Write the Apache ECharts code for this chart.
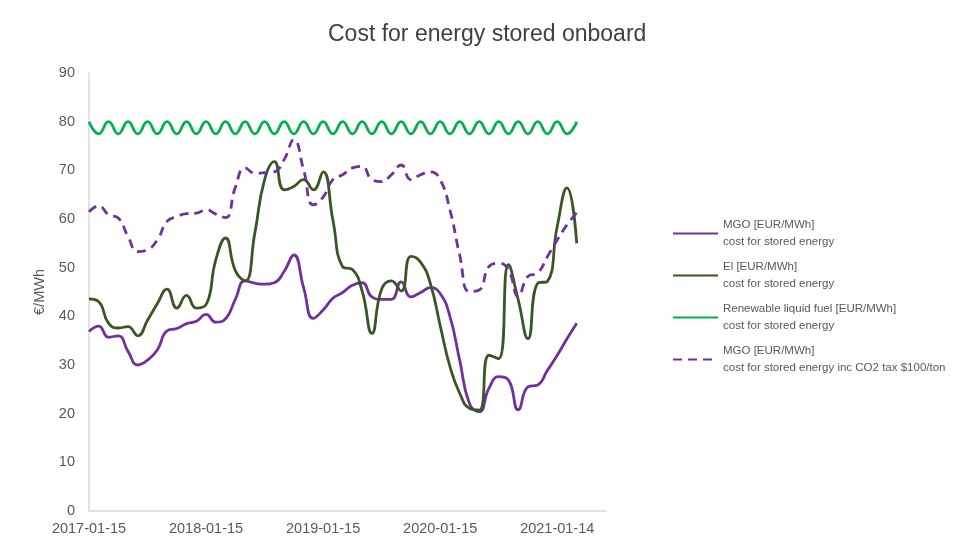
<!DOCTYPE html>
<html>
<head>
<meta charset="utf-8">
<title>Cost for energy stored onboard</title>
<script src="https://cdn.jsdelivr.net/npm/echarts/dist/echarts.min.js"></script>
</head>
<body style="margin:0;background:#fff">
<div id="container" style="width:959px;height:552px"></div>
<script>
// monthly categories, Jan 2017 .. Jun 2021 (axis runs a bit past the data)
var months = [];
for (var y = 2017; y <= 2021; y++) {
    for (var m = 1; m <= 12; m++) {
        if (y === 2021 && m > 6) break;
        var d = (y === 2021 && m === 1) ? '14' : '15';
        months.push(y + '-' + (m < 10 ? '0' + m : m) + '-' + d);
    }
}

// values, EUR/MWh
var mgo = [36.9, 38.0, 35.7, 36.0, 32.8, 30.0, 31.0, 33.1, 37.0, 37.5,
           38.5, 39.0, 40.4, 38.8, 39.5, 43.5, 47.3, 46.8, 46.6, 46.9,
           49.2, 52.6, 45.9, 39.6, 41.3, 43.7, 44.9, 46.4, 46.9, 44.0,
           43.5, 43.5, 47.1, 44.0, 44.9, 45.9, 44.7, 40.0, 31.0, 22.1,
           20.4, 25.2, 27.6, 26.9, 20.8, 25.5, 25.9, 28.9, 32.0, 35.4,
           38.6];
var el = [43.6, 43.0, 38.6, 37.6, 37.9, 36.0, 39.2, 42.6, 45.6, 41.7,
          44.3, 41.7, 42.4, 51.6, 56.1, 49.4, 47.3, 57.1, 68.1, 71.8,
          66.0, 66.7, 68.1, 66.0, 69.7, 59.8, 50.2, 49.6, 45.2, 36.5,
          45.6, 47.3, 45.2, 52.3, 51.1, 46.7, 38.1, 29.7, 24.2, 21.1,
          20.7, 32.0, 31.3, 50.6, 43.4, 35.4, 46.8, 47.2, 58.5, 66.4,
          55.0];
var renewable = [80, 77.5, 80, 77.5, 80, 77.5, 80, 77.5, 80, 77.5,
                 80, 77.5, 80, 77.5, 80, 77.5, 80, 77.5, 80, 77.5,
                 80, 77.5, 80, 77.5, 80, 77.5, 80, 77.5, 80, 77.5,
                 80, 77.5, 80, 77.5, 80, 77.5, 80, 77.5, 80, 77.5,
                 80, 77.5, 80, 77.5, 80, 77.5, 80, 77.5, 80, 77.5,
                 80];
var mgoCo2 = [61.5, 62.7, 60.9, 60.2, 56.4, 53.3, 53.7, 55.7, 59.5, 60.5,
              61.1, 61.2, 61.9, 61.0, 60.3, 66.5, 70.5, 69.4, 69.5, 69.7,
              72.2, 76.3, 70.1, 62.9, 64.5, 68.1, 69.1, 70.5, 70.8, 68.1,
              67.7, 69.1, 71.1, 68.1, 69.1, 69.7, 68.1, 61.9, 52.6, 45.1,
              45.4, 50.2, 50.9, 49.6, 44.1, 48.2, 48.9, 52.3, 55.7, 58.8,
              61.3];

var seriesNames = [
    'MGO [EUR/MWh]\ncost for stored energy',
    'El [EUR/MWh]\ncost for stored energy',
    'Renewable liquid fuel [EUR/MWh]\ncost for stored energy',
    'MGO [EUR/MWh]\ncost for stored energy inc CO2 tax $100/ton'
];

var font = 'Liberation Sans';
var myChart = echarts.init(document.getElementById('container'));

var mkLine = function (name, data, color, dash) {
    return {
        name: name,
        type: 'line',
        data: data,
        smooth: 0.5,
        symbol: 'none',
        showSymbol: false,
        lineStyle: {color: color, width: 2.8, type: dash || 'solid'},
        itemStyle: {color: color}
    };
};

var option = {
    backgroundColor: '#fff',
    animation: false,
    textStyle: {fontFamily: font},
    title: {
        text: 'Cost for energy stored onboard',
        left: 328,
        top: 23,
        padding: 0,
        textStyle: {fontFamily: font, fontSize: 23, fontWeight: 'normal', color: '#404040'}
    },
    legend: {
        orient: 'vertical',
        left: 672,
        top: 208,
        padding: 0,
        itemGap: -9,
        itemWidth: 45,
        itemHeight: 14,
        data: seriesNames,
        // only the line in the legend keys, no marker dot
        itemStyle: {opacity: 0},
        textStyle: {
            fontFamily: font, fontSize: 11.5, color: '#595959',
            lineHeight: 17, padding: [17, 0, 0, 0]
        }
    },
    grid: {left: 89, top: 73, right: 353, bottom: 41},
    xAxis: {
        type: 'category',
        data: months,
        boundaryGap: false,
        axisLine: {lineStyle: {color: '#d9d9d9', width: 1.5}},
        axisTick: {show: false},
        axisLabel: {interval: 11, color: '#595959', fontSize: 14.5, margin: 10, fontFamily: font},
        splitLine: {show: false}
    },
    yAxis: {
        type: 'value',
        min: 0,
        max: 90,
        interval: 10,
        name: '€/MWh',
        nameLocation: 'middle',
        nameGap: 38,
        nameTextStyle: {color: '#595959', fontSize: 14.5, fontFamily: font},
        axisLine: {show: true, lineStyle: {color: '#d9d9d9', width: 1.5}},
        axisTick: {show: false},
        axisLabel: {color: '#595959', fontSize: 14.5, margin: 14, fontFamily: font},
        splitLine: {show: false}
    },
    series: [
        mkLine(seriesNames[0], mgo, '#7030a0'),
        mkLine(seriesNames[1], el, '#385723'),
        mkLine(seriesNames[2], renewable, '#00b050'),
        mkLine(seriesNames[3], mgoCo2, '#7030a0', [9, 6])
    ]
};

myChart.setOption(option);
</script>
</body>
</html>
